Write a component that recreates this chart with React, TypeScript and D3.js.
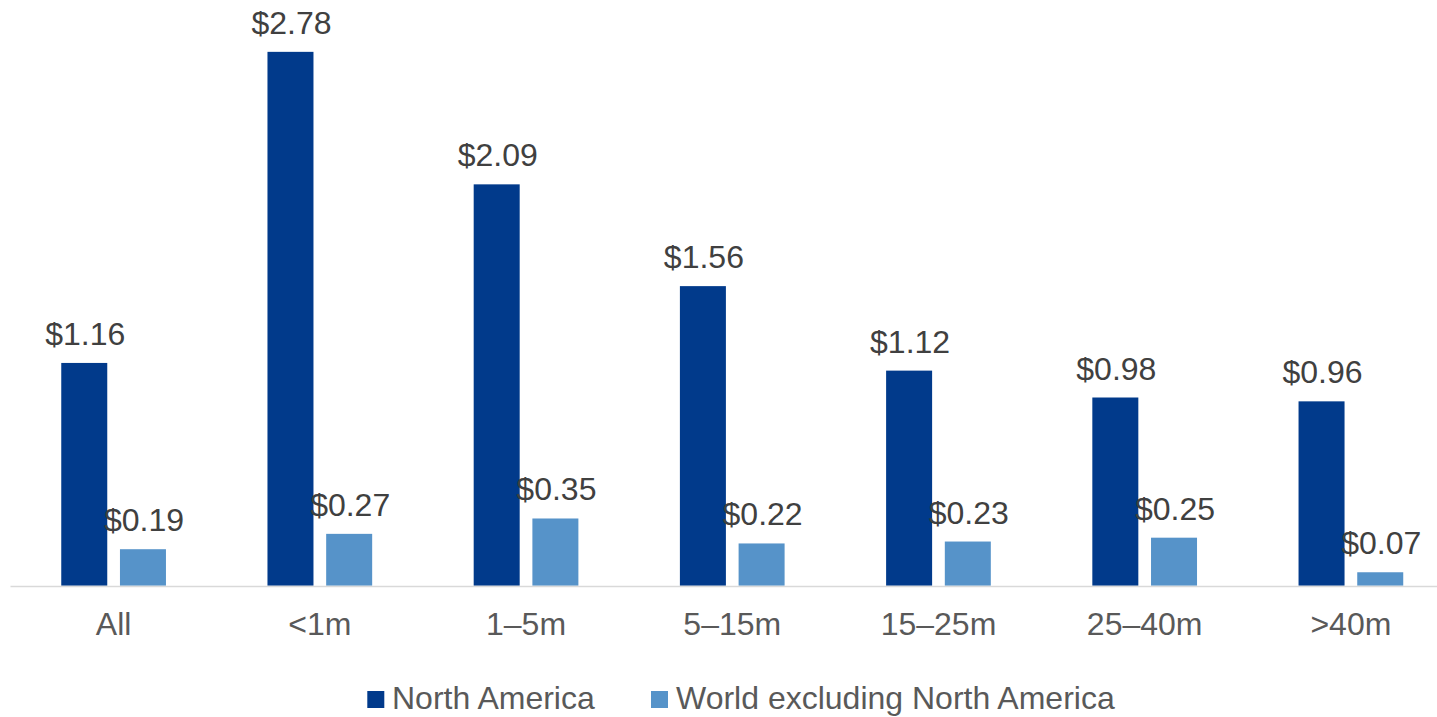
import React from "react";
import * as d3 from "d3";

const categories = ["All", "<1m", "1–5m", "5–15m", "15–25m", "25–40m", ">40m"];
const northAmerica = [1.16, 2.78, 2.09, 1.56, 1.12, 0.98, 0.96];
const worldExNA = [0.19, 0.27, 0.35, 0.22, 0.23, 0.25, 0.07];
const seriesNames = ["North America", "World excluding North America"];
const seriesColors = ["#013A8B", "#5693C9"];

const W = 1437;
const H = 717;
const baseY = 585.7;
const font = "'Liberation Sans', Arial, sans-serif";
const fs = 32;

export default function App() {
  const x = d3.scaleBand<string>().domain(categories).range([10.5, 1454]).paddingInner(0).paddingOuter(0);
  const y = d3.scaleLinear().domain([0, 3.05]).range([baseY, 0]);
  const barW = 46;
  const gap = 12.7;
  const series = [northAmerica, worldExNA];
  const fmt = (v: number) => "$" + d3.format(".2f")(v);

  return (
    <svg width={W} height={H} style={{ position: "absolute", left: 0, top: 0, display: "block" }} fontFamily={font}>
      <rect width={W} height={H} fill="#fff" />
      {categories.map((c, i) => {
        const cx = (x(c) as number) + x.bandwidth() / 2;
        const groupW = barW * 2 + gap;
        return (
          <g key={c}>
            {series.map((s, si) => {
              const bx = cx - groupW / 2 + si * (barW + gap);
              const v = s[i];
              return (
                <g key={si}>
                  <rect x={bx} y={y(v)} width={barW} height={baseY - y(v)} fill={seriesColors[si]} />
                  <text x={bx + barW / 2 + 1} y={y(v) - 18} textAnchor="middle" fontSize={fs} fill="#404040">
                    {fmt(v)}
                  </text>
                </g>
              );
            })}
            <text x={cx} y={635} textAnchor="middle" fontSize={fs} fill="#595959">
              {c}
            </text>
          </g>
        );
      })}
      <line x1={10.5} x2={W} y1={586.5} y2={586.5} stroke="#d9d9d9" strokeWidth={1.5} />
      <g>
        <rect x={367.3} y={691} width={17} height={17} fill={seriesColors[0]} />
        <text x={392} y={709} fontSize={fs} fill="#595959">{seriesNames[0]}</text>
        <rect x={651} y={691} width={17} height={17} fill={seriesColors[1]} />
        <text x={676} y={709} fontSize={fs} fill="#595959">{seriesNames[1]}</text>
      </g>
    </svg>
  );
}
